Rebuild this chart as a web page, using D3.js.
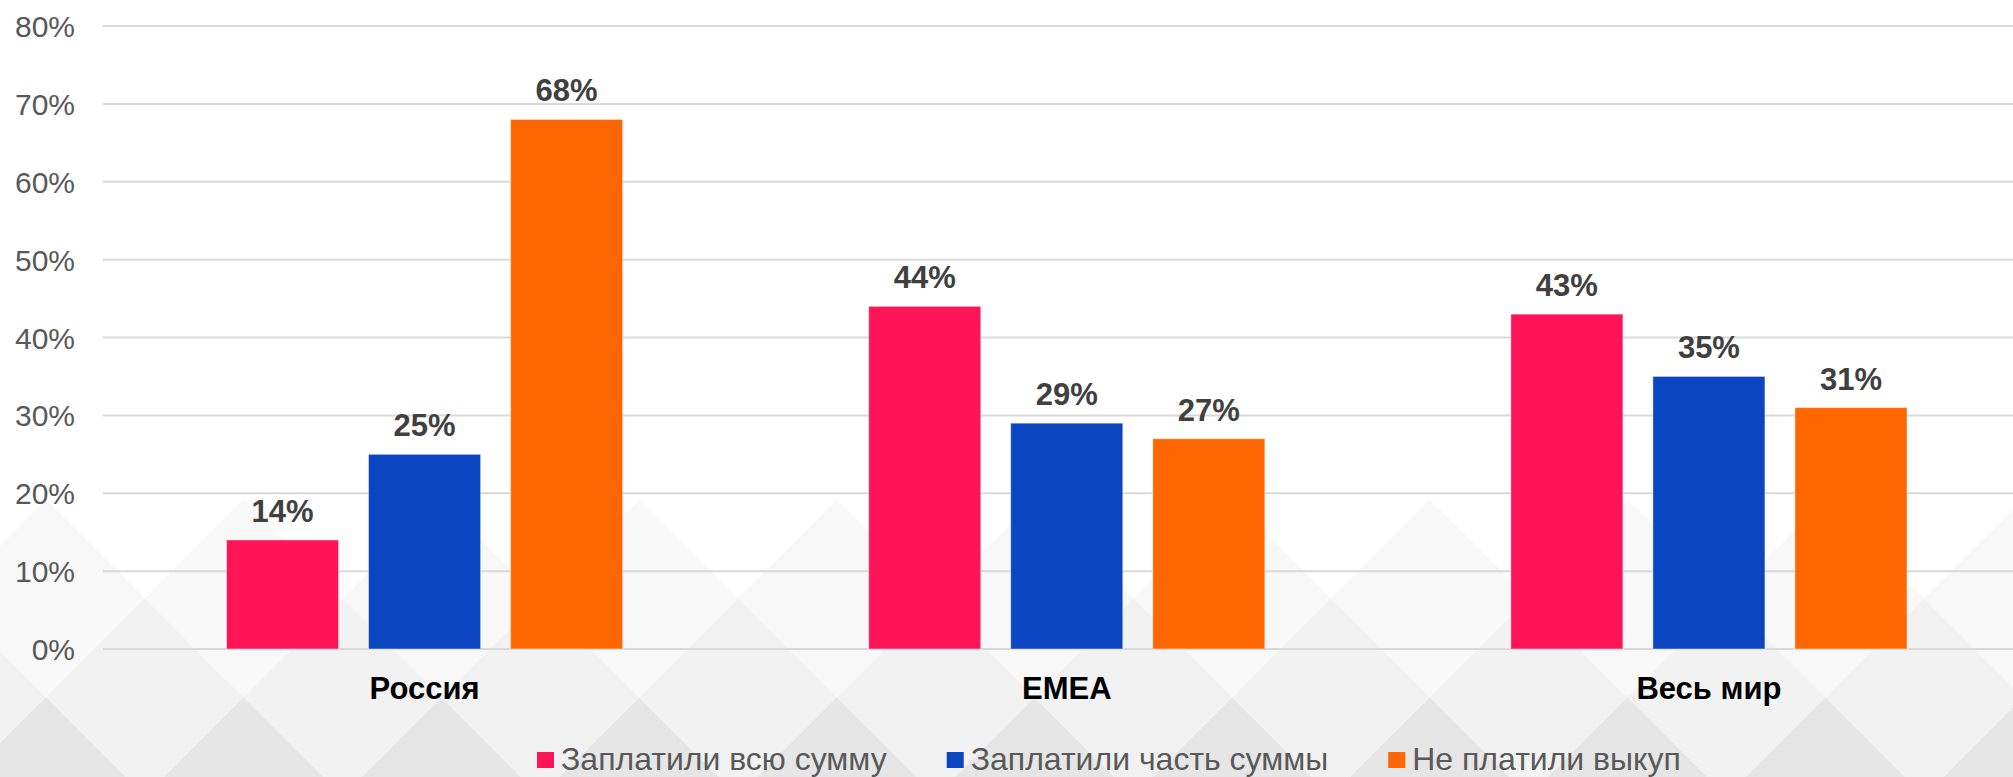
<!DOCTYPE html>
<html>
<head>
<meta charset="utf-8">
<script src="https://cdn.jsdelivr.net/npm/d3@7"></script>
<style>
  html, body { margin: 0; padding: 0; background: #ffffff; }
  svg { display: block; }
  text { font-family: "Liberation Sans", Arial, Helvetica, sans-serif; }
</style>
</head>
<body>
<svg id="chart" width="2013" height="777"></svg>
<script>
// Ransom payment outcomes by region (share of respondents, %)
const categories = ["Россия", "EMEA", "Весь мир"];
const seriesNames = ["Заплатили всю сумму", "Заплатили часть суммы", "Не платили выкуп"];
const paidFull = [14, 44, 43];
const paidPart = [25, 29, 35];
const notPaid = [68, 27, 31];
const seriesColors = ["#ff1457", "#0c45c2", "#ff6600"];
const yTickValues = [0, 10, 20, 30, 40, 50, 60, 70, 80];

const seriesValues = [paidFull, paidPart, notPaid];

const W = 2013, H = 777;
const svg = d3.select("#chart");

// ---- background: rows of diamonds, darkening towards the bottom ----
const bg = svg.append("g").attr("class", "background");
const P = 197.7, h = P / 2, baseX = 46, baseY = 796;
const rowShades = ["#e6e6e6", "#f2f2f2", "#f8f8f8", "#ffffff"];
const diamonds = [];
rowShades.forEach((shade, k) => {
  const cy = baseY - k * h;
  const offset = (k % 2 === 1) ? h : 0;
  for (let cx = baseX + offset - P; cx < W + P; cx += P) {
    diamonds.push({ cx, cy, shade });
  }
});
bg.selectAll("path").data(diamonds).join("path")
  .attr("d", d => `M${d.cx},${d.cy - h}L${d.cx + h},${d.cy}L${d.cx},${d.cy + h}L${d.cx - h},${d.cy}Z`)
  .attr("fill", d => d.shade)
  .attr("stroke", d => d.shade)
  .attr("stroke-width", 0.5);

// ---- scales ----
const x0 = d3.scaleBand().domain(categories).range([103.5, 2030]).paddingInner(0).paddingOuter(0);
const x1 = d3.scaleBand().domain(seriesNames).range([0, x0.bandwidth()])
  .paddingInner(0.211).paddingOuter(0.866);
const y = d3.scaleLinear().domain([0, 80]).range([649, 26]);

// ---- gridlines ----
svg.append("g").selectAll("line").data(yTickValues).join("line")
  .attr("x1", 103).attr("x2", W)
  .attr("y1", d => y(d)).attr("y2", d => y(d))
  .attr("stroke", "#d9d9d9").attr("stroke-width", 2);

// ---- y axis labels ----
const yAxis = d3.axisLeft(y).tickValues(yTickValues).tickFormat(d => d + "%").tickSize(0).tickPadding(0);
const yg = svg.append("g").attr("transform", "translate(75,0)").call(yAxis);
yg.select(".domain").remove();
yg.selectAll("text")
  .attr("font-size", 30).attr("fill", "#595959")
  .attr("font-family", "'Liberation Sans', Arial, sans-serif")
  .attr("dy", "0.35em");

// ---- bars ----
const rows = [];
seriesNames.forEach((s, si) => {
  categories.forEach((c, ci) => {
    rows.push({ cat: c, series: s, value: seriesValues[si][ci], color: seriesColors[si] });
  });
});

svg.append("g").selectAll("rect").data(rows).join("rect")
  .attr("x", d => x0(d.cat) + x1(d.series))
  .attr("y", d => y(d.value))
  .attr("width", x1.bandwidth())
  .attr("height", d => y(0) - y(d.value))
  .attr("fill", d => d.color)
  .attr("stroke", "rgba(255,255,255,0.45)")
  .attr("stroke-width", 1);

// ---- value labels ----
svg.append("g").selectAll("text").data(rows).join("text")
  .attr("x", d => x0(d.cat) + x1(d.series) + x1.bandwidth() / 2)
  .attr("y", d => y(d.value) - 18)
  .attr("text-anchor", "middle")
  .attr("font-size", 31).attr("font-weight", "bold").attr("fill", "#404040")
  .text(d => d.value + "%");

// ---- category labels ----
const xAxis = d3.axisBottom(x0).tickSize(0).tickPadding(0);
const xg = svg.append("g").attr("transform", "translate(0,699)").call(xAxis);
xg.select(".domain").remove();
xg.selectAll("text")
  .attr("dy", 0).attr("y", 0)
  .attr("font-size", 31).attr("font-weight", "bold").attr("fill", "#000000")
  .attr("font-family", "'Liberation Sans', Arial, sans-serif");

// ---- legend ----
const legend = svg.append("g").attr("class", "legend");
let lx = 537;
seriesNames.forEach((s, i) => {
  const item = legend.append("g").attr("transform", `translate(${lx},0)`);
  item.append("rect").attr("x", 0).attr("y", 752).attr("width", 17).attr("height", 16)
    .attr("fill", seriesColors[i]);
  const t = item.append("text").attr("x", 24).attr("y", 770)
    .attr("font-size", 32).attr("fill", "#595959").text(s);
  lx += 24 + t.node().getComputedTextLength() + 60;
});
</script>
</body>
</html>
